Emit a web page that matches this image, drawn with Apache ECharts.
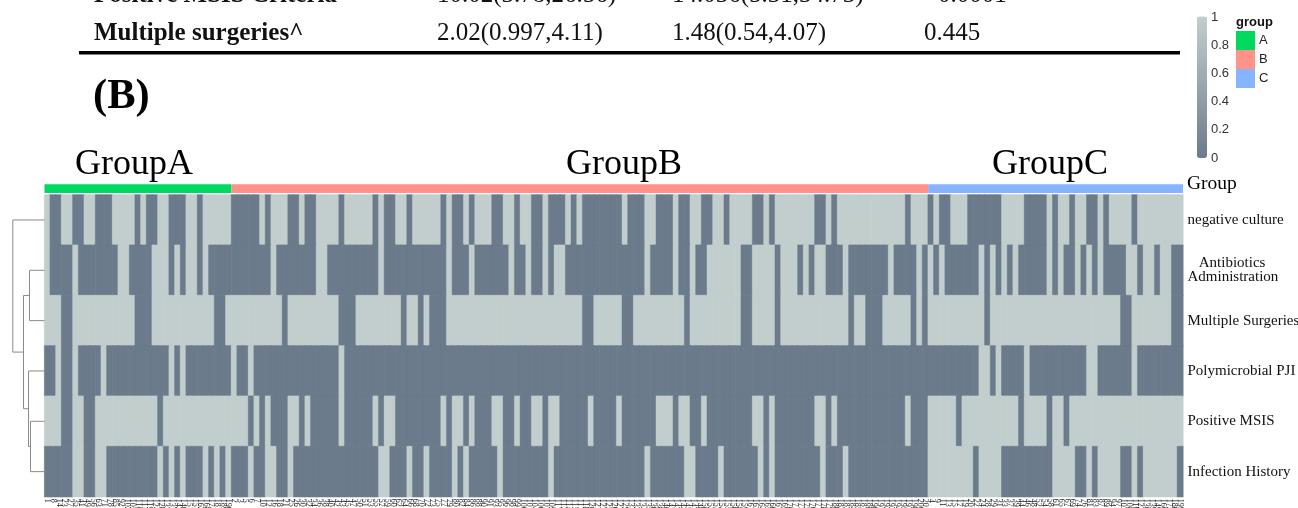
<!DOCTYPE html>
<html><head><meta charset="utf-8">
<style>html,body{margin:0;padding:0;background:#fff}#c{width:1298px;height:508px}</style>
<script src="https://cdn.jsdelivr.net/npm/echarts@6/dist/echarts.min.js"></script>
</head><body><div id="c"></div>
<script>
// Sample ids, one per column, ascending inside each group
const groupAIds=[1,8,14,23,27,35,41,49,56,63,71,78,85,92,102,105,110,113,119,124,128,133,137,142,146,151,157,162,168,174,181,189,196];
const groupBIds=[2,3,5,6,7,10,12,16,18,21,25,26,30,32,34,36,38,40,42,43,45,47,50,51,53,55,57,59,60,62,64,66,68,70,72,73,75,77,79,80,82,84,86,88,90,91,93,95,96,98,99,100,101,104,106,107,109,111,112,114,115,117,118,120,121,123,125,126,127,129,131,132,134,135,136,138,140,141,143,144,145,147,148,150,152,153,154,155,156,158,159,161,163,164,165,166,167,169,170,171,173,175,176,177,178,179,180,182,183,184,185,187,188,190,191,192,193,194,195,197,198,200,201];
const groupCIds=[4,9,11,13,15,17,19,20,22,24,28,29,31,33,37,39,44,46,48,52,54,58,61,65,67,69,74,76,81,83,87,89,94,97,103,108,116,122,130,139,149,160,172,186,199];
const groupNames=['A','B','C'];
const groupTitles=['GroupA','GroupB','GroupC'];
const groupColors=['#00d960','#ff9289','#86b4ff'];
const rowLabels=['negative culture','   Antibiotics\nAdministration','Multiple Surgeries','Polymicrobial PJI','Positive MSIS','Infection History'];
// Columns whose value is 0 (dark), as inclusive [first,last] runs; every other column is 1
const negativeCultureZero=[[1,2],[5,6],[9,11],[16,16],[18,19],[22,24],[27,27],[33,37],[39,39],[43,44],[46,47],[52,52],[58,58],[60,61],[64,64],[70,70],[72,73],[75,75],[79,80],[83,83],[86,87],[89,91],[93,93],[95,101],[103,105],[108,110],[112,113],[116,117],[120,120],[125,126],[128,128],[136,137],[139,139],[152,152],[156,156],[158,159],[163,168],[173,176],[178,178],[181,181],[184,185],[187,187],[192,192]];
const antibioticsZero=[[1,4],[6,12],[15,18],[22,22],[24,24],[27,27],[29,39],[41,47],[50,58],[60,70],[72,74],[76,81],[83,84],[86,87],[89,89],[92,105],[107,110],[112,113],[115,116],[123,124],[129,129],[133,133],[135,135],[138,140],[142,148],[150,153],[155,155],[157,157],[159,164],[166,166],[168,168],[170,170],[172,176],[178,178],[180,181],[183,183],[185,185],[187,190],[193,193],[196,196],[199,200]];
const surgeriesZero=[[3,4],[16,18],[30,31],[42,42],[52,54],[63,63],[66,66],[68,70],[95,96],[102,103],[113,113],[123,124],[129,129],[142,142],[145,147],[153,153],[155,155],[166,166],[190,191],[199,200]];
const polymicrobialZero=[[0,1],[3,4],[6,9],[11,21],[23,23],[25,32],[34,35],[37,51],[53,164],[167,167],[169,172],[174,183],[186,191],[193,200]];
const msisZero=[[3,4],[7,8],[20,20],[36,36],[38,38],[40,42],[45,45],[47,51],[53,57],[59,59],[62,69],[71,71],[74,74],[76,78],[81,82],[84,85],[88,88],[91,95],[97,100],[102,107],[111,111],[114,115],[117,124],[127,127],[129,135],[138,138],[140,151],[153,155],[161,161],[172,172],[177,177],[180,180]];
const infectionZero=[[0,4],[7,8],[11,19],[21,21],[23,23],[25,27],[29,29],[31,31],[33,35],[37,38],[41,42],[44,58],[61,63],[65,66],[68,71],[73,73],[75,79],[81,88],[90,105],[107,112],[115,118],[120,125],[127,127],[129,136],[138,140],[142,155],[164,164],[169,177],[182,183],[185,185],[190,191],[193,193],[200,200]];
// Dendrogram merges, hclust style: negative = row (1-based), positive = earlier merge (1-based), then height
const dendroMerges=[[-2,-3,15],[-5,-6,14],[-4,2,16],[1,3,21],[-1,4,31.7]];
const colorTicks=[0,0.2,0.4,0.6,0.8,1];
const tableRows=[
 ['Positive MSIS Criteria','10.02(3.78,26.56)','14.036(5.31,34.73)','<0.0001'],
 ['Multiple surgeries^','2.02(0.997,4.11)','1.48(0.54,4.07)','0.445']
];
const panelTag='(B)';

const SERIF='"Liberation Serif","Times New Roman",serif';
const SANS='"Liberation Sans",Arial,sans-serif';
const LOW='#6b7b8c',HIGH='#c2cecd';
const columns=groupAIds.concat(groupBIds,groupCIds).map(String);
const zeroRows=[negativeCultureZero,antibioticsZero,surgeriesZero,polymicrobialZero,msisZero,infectionZero];
const groupSizes=[groupAIds.length,groupBIds.length,groupCIds.length];
const cells=[];
zeroRows.forEach((runs,r)=>{
  columns.forEach((_,c)=>{
    const z=runs.some(q=>c>=q[0]&&c<=q[1]);
    cells.push({value:[c,r,z?0:1],itemStyle:{borderColor:z?LOW:HIGH,borderWidth:0.4}});
  });
});
// dendrogram geometry in data units
const nodes=[];
function nodeOf(id){return id<0?{y:-id-0.5,h:0}:nodes[id-1];}
const dendroData=dendroMerges.map(m=>{
  const a=nodeOf(m[0]),b=nodeOf(m[1]);
  nodes.push({y:(a.y+b.y)/2,h:m[2]});
  return [a.h,a.y,m[2],b.y,b.h];
});

const L=44.5,W=1138.5,T=194.8,H=302;
const chart=echarts.init(document.getElementById('c'),null,{renderer:'canvas'});
const txt=(x,y,s,size,font,fill)=>({type:'text',x:x,y:y+Math.round(size*0.22),silent:true,style:{text:s,font:(font||'')+' '+size+'px '+SERIF,fill:fill||'#000',verticalAlign:'bottom',align:'left'}});
const tableX=[94,437,672,924];
const tableY=[2,40];
const graphics=[];
tableRows.forEach((row,r)=>row.forEach((s,c)=>{
  graphics.push(txt(tableX[c],tableY[r],s,25,c===0?'bold':'','#111'));
}));
graphics.push({type:'rect',shape:{x:79,y:51,width:1101,height:3.4},style:{fill:'#000'},silent:true});
graphics.push(txt(93,110,panelTag,42.5,'bold'));
const titleX=[75,566,992];
groupTitles.forEach((s,i)=>graphics.push(txt(titleX[i],175,s,36)));
graphics.push(txt(1187,190,'Group',19.5));
graphics.push({type:'text',x:1236,y:15.5,silent:true,style:{text:'group',font:'bold 13px '+SANS,fill:'#111',verticalAlign:'top'}});

chart.setOption({
  animation:false,
  backgroundColor:'#fff',
  graphic:graphics,
  legend:{data:groupNames,orient:'vertical',left:1236,top:31,itemWidth:19,itemHeight:19,itemGap:0,itemStyle:{borderWidth:0},icon:'rect',selectedMode:false,textStyle:{fontFamily:SANS,fontSize:13,color:'#222',padding:[0,0,0,-1]},padding:0},
  visualMap:{type:'continuous',seriesIndex:0,dimension:2,min:0,max:1,left:1197,top:16.5,itemWidth:10,itemHeight:141.5,padding:0,calculable:false,showLabel:false,text:null,inRange:{color:[LOW,HIGH]},hoverLink:false},
  grid:[
    {left:L,width:W,top:T,height:H,outerBoundsMode:'none'},
    {left:12.5,width:32,top:T,height:H,outerBoundsMode:'none'},
    {left:L,width:W,top:184.3,height:8.7,outerBoundsMode:'none'},
    {left:1197,width:10,top:17,height:141,outerBoundsMode:'none'}
  ],
  xAxis:[
    {gridIndex:0,type:'category',data:columns,position:'bottom',axisLine:{show:false},axisTick:{show:false},splitLine:{show:false},
      axisLabel:{interval:0,rotate:-90,fontSize:8,fontFamily:SERIF,color:'#222',margin:2,hideOverlap:false,align:'left',verticalAlign:'middle'}},
    {gridIndex:1,type:'value',min:0,max:32,inverse:true,show:false},
    {gridIndex:2,type:'value',min:0,max:columns.length,show:false},
    {gridIndex:3,type:'value',min:0,max:1,show:false}
  ],
  yAxis:[
    {gridIndex:0,type:'category',data:rowLabels,inverse:true,position:'right',axisLine:{show:false},axisTick:{show:false},splitLine:{show:false},
      axisLabel:{interval:0,fontFamily:SERIF,fontSize:15,color:'#111',margin:4.5,align:'left',lineHeight:14.5}},
    {gridIndex:1,type:'value',min:0,max:6,inverse:true,show:false},
    {gridIndex:2,type:'category',data:['group'],show:false},
    {gridIndex:3,type:'value',min:0,max:1,interval:0.2,position:'right',axisLine:{show:false},axisTick:{show:false},splitLine:{show:false},
      axisLabel:{fontFamily:SANS,fontSize:13,color:'#333',margin:4,formatter:v=>colorTicks.includes(+v.toFixed(1))?String(+v.toFixed(1)):''}}
  ],
  series:[
    {type:'heatmap',xAxisIndex:0,yAxisIndex:0,data:cells,progressive:0,emphasis:{disabled:true}},
    {type:'custom',xAxisIndex:1,yAxisIndex:1,data:dendroData,silent:true,clip:false,
      renderItem:(p,api)=>{
        const ah=api.value(0),ay=api.value(1),h=api.value(2),by=api.value(3),bh=api.value(4);
        const pts=[[ah,ay],[h,ay],[h,by],[bh,by]].map(q=>api.coord(q));
        return {type:'polyline',shape:{points:pts},style:{stroke:'#8a8a8a',lineWidth:1,fill:null}};
      },
      encode:{x:2,y:1}},
    ...groupNames.map((n,i)=>({name:n,type:'bar',xAxisIndex:2,yAxisIndex:2,stack:'g',barWidth:'100%',data:[groupSizes[i]],itemStyle:{color:groupColors[i]},silent:true}))
  ]
});
</script></body></html>
